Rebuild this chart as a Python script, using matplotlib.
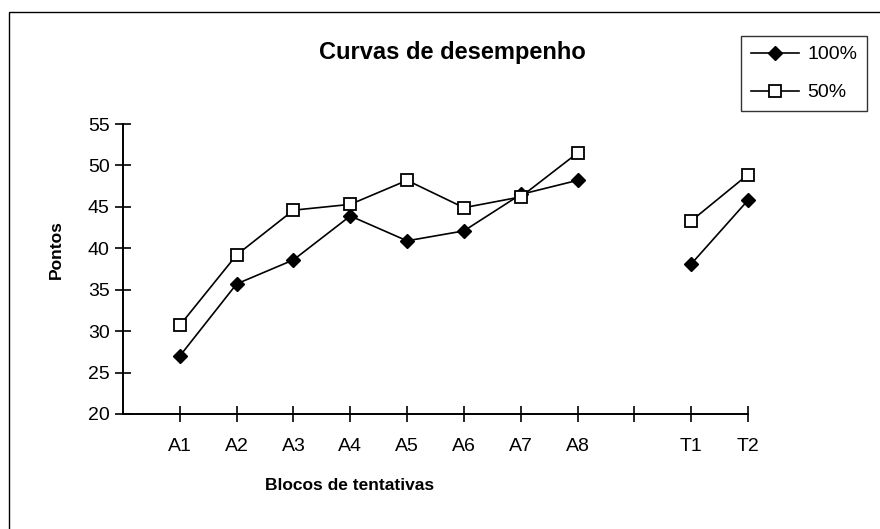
import numpy as np
import matplotlib
matplotlib.use("Agg")
import matplotlib.pyplot as plt
from matplotlib.patches import Rectangle


# ==========================
# dados
# ==========================

blocos = ["A1", "A2", "A3", "A4", "A5", "A6", "A7", "A8", "", "T1", "T2"]

serie_100 = [27.0, 35.7, 38.6, 43.9, 40.9, 42.1, 46.5, 48.2, np.nan, 38.1, 45.8]
serie_50 = [30.7, 39.2, 44.6, 45.3, 48.2, 44.9, 46.2, 51.5, np.nan, 43.3, 48.9]

y_ticks = [20, 25, 30, 35, 40, 45, 50, 55]


# ==========================
# figura
# ==========================

plt.rcParams["font.family"] = ["Liberation Sans", "DejaVu Sans"]

W, H = 880, 529
fig = plt.figure(figsize=(W / 100, H / 100), dpi=100)

ax = fig.add_axes([123 / W, 1 - 414 / H, 625 / W, 290 / H])

x = np.arange(1, len(blocos) + 1)

ax.plot(x, serie_100, color="black", lw=1.2, marker="D", ms=7.5,
        mfc="black", mec="black", label="100%", clip_on=False)
ax.plot(x, serie_50, color="black", lw=1.2, marker="s", ms=8.5,
        mfc="white", mec="black", mew=1.3, label="50%", clip_on=False)

ax.set_xlim(0, len(blocos))
ax.set_ylim(20, 55)

ax.set_xticks(x)
ax.set_xticklabels(blocos)
ax.set_yticks(y_ticks)

for s in ["top", "right"]:
    ax.spines[s].set_visible(False)
for s in ["left", "bottom"]:
    ax.spines[s].set_linewidth(1.4)

ax.tick_params(axis="both", direction="inout", length=11, width=1.2,
               labelsize=14, colors="black")
ax.tick_params(axis="x", pad=12)
ax.tick_params(axis="y", pad=4)

fig.text(452 / W, 1 - 52 / H, "Curvas de desempenho", ha="center",
         va="center", fontsize=17, fontweight="bold")
fig.text(350 / W, 1 - 486 / H, "Blocos de tentativas", ha="center",
         va="center", fontsize=12.5, fontweight="bold")
fig.text(56 / W, 1 - 250 / H, "Pontos", ha="center", va="center",
         rotation=90, fontsize=12.5, fontweight="bold")

leg = fig.legend(loc="upper left", bbox_to_anchor=(741 / W, 1 - 36 / H),
                 frameon=True, fancybox=False, edgecolor="black",
                 fontsize=14, handlelength=2.5, borderpad=0.5,
                 borderaxespad=0, labelspacing=1.05, handletextpad=0.4)
leg.get_frame().set_linewidth(1.0)

# moldura externa
fig.add_artist(Rectangle((9 / W, -0.1), 1.2, 1.1 - 12 / H,
                         transform=fig.transFigure, fill=False,
                         edgecolor="black", lw=1.0))

fig.savefig("out.png", dpi=100)
plt.close(fig)
